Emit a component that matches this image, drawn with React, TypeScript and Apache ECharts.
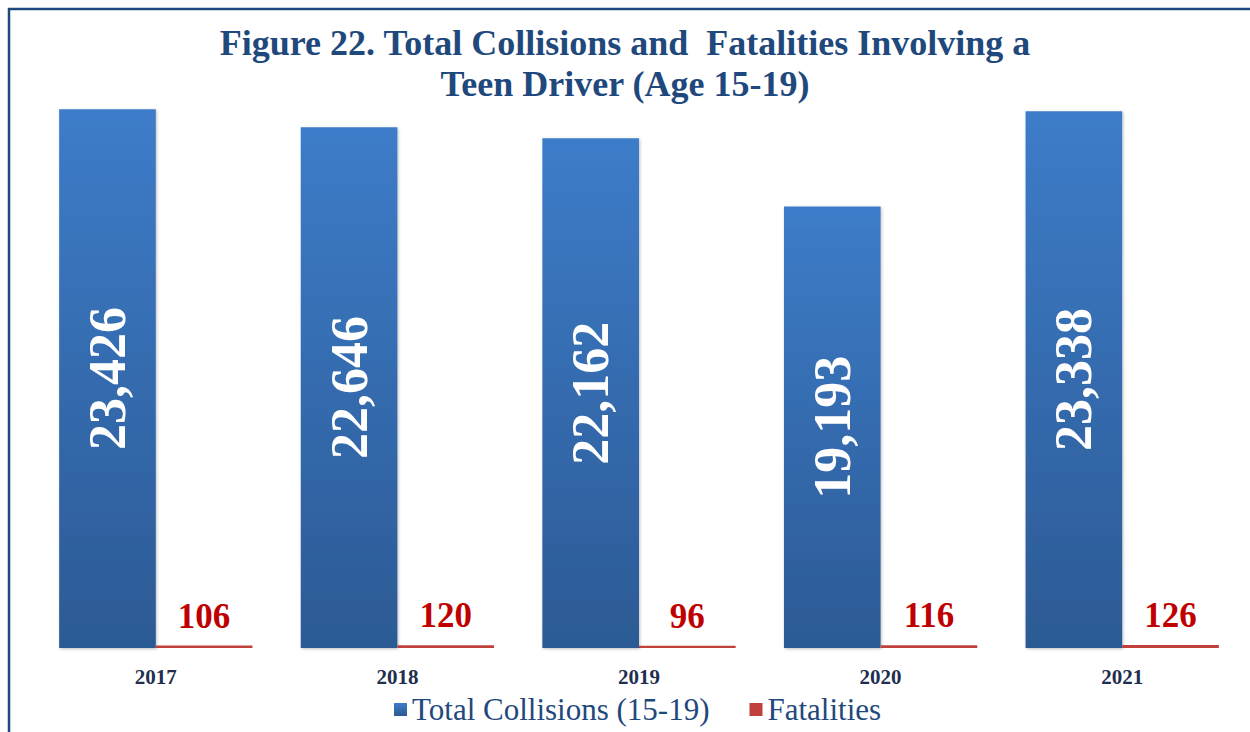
import React, { useEffect, useRef } from "react";
import * as echarts from "echarts";

const years = ["2017", "2018", "2019", "2020", "2021"];
const collisions = [23426, 22646, 22162, 19193, 23338];
const fatalities = [106, 120, 96, 116, 126];
const seriesNames = ["Total Collisions (15-19)", "Fatalities"];
const titleText = "Figure 22. Total Collisions and  Fatalities Involving a\nTeen Driver (Age 15-19)";

const FONT = '"Liberation Serif", "Times New Roman", serif';

export default function App() {
  const ref = useRef<HTMLDivElement>(null);
  useEffect(() => {
    if (!ref.current) return;
    const chart = echarts.init(ref.current, undefined, { renderer: "svg" });
    chart.setOption({
      animation: false,
      backgroundColor: "#ffffff",
      title: {
        text: titleText,
        left: "center",
        top: 17,
        textStyle: {
          fontFamily: FONT,
          fontWeight: "bold",
          fontSize: 36,
          lineHeight: 41,
          color: "#1f497d",
        },
      },
      legend: {
        bottom: 2,
        left: 389,
        itemWidth: 13,
        itemHeight: 13,
        itemGap: 40,
        icon: "rect",
        textStyle: { fontFamily: FONT, fontSize: 31, color: "#1f497d" },
        data: seriesNames,
      },
      grid: { left: 35, right: 7, top: 73, bottom: 84, containLabel: false },
      xAxis: {
        type: "category",
        data: years,
        axisLine: { show: false },
        axisTick: { show: false },
        axisLabel: {
          fontFamily: FONT,
          fontWeight: "bold",
          fontSize: 21,
          color: "#1f2f4f",
          margin: 18,
        },
      },
      yAxis: {
        type: "value",
        min: 0,
        max: 25000,
        show: false,
        splitLine: { show: false },
      },
      graphic: [
        {
          type: "rect",
          shape: { x: 9, y: 9, width: 1300, height: 800 },
          style: { fill: "none", stroke: "#1f497d", lineWidth: 2.5 },
          z: 100,
        },
      ],
      series: [
        {
          name: seriesNames[0],
          type: "bar",
          data: collisions,
          barGap: "0%",
          barCategoryGap: "20%",
          itemStyle: {
            color: new echarts.graphic.LinearGradient(0, 0, 0, 1, [
              { offset: 0, color: "#3d7cc9" },
              { offset: 1, color: "#2c5a94" },
            ]),
            shadowColor: "rgba(0,0,0,0.25)",
            shadowBlur: 3,
            shadowOffsetX: 1,
            shadowOffsetY: 1,
          },
          label: {
            show: true,
            position: "inside",
            rotate: 90,
            formatter: (p: any) => p.value.toLocaleString("en-US"),
            fontFamily: FONT,
            fontWeight: "bold",
            fontSize: 52,
            color: "#ffffff",
          },
        },
        {
          name: seriesNames[1],
          type: "bar",
          data: fatalities,
          itemStyle: { color: "#c0403c" },
          label: {
            show: true,
            position: "top",
            distance: 12,
            fontFamily: FONT,
            fontWeight: "bold",
            fontSize: 35,
            color: "#c00000",
          },
        },
      ],
    });
    return () => chart.dispose();
  }, []);
  return (
    <div
      ref={ref}
      style={{ position: "fixed", left: 0, top: 0, width: 1250, height: 732 }}
    />
  );
}
